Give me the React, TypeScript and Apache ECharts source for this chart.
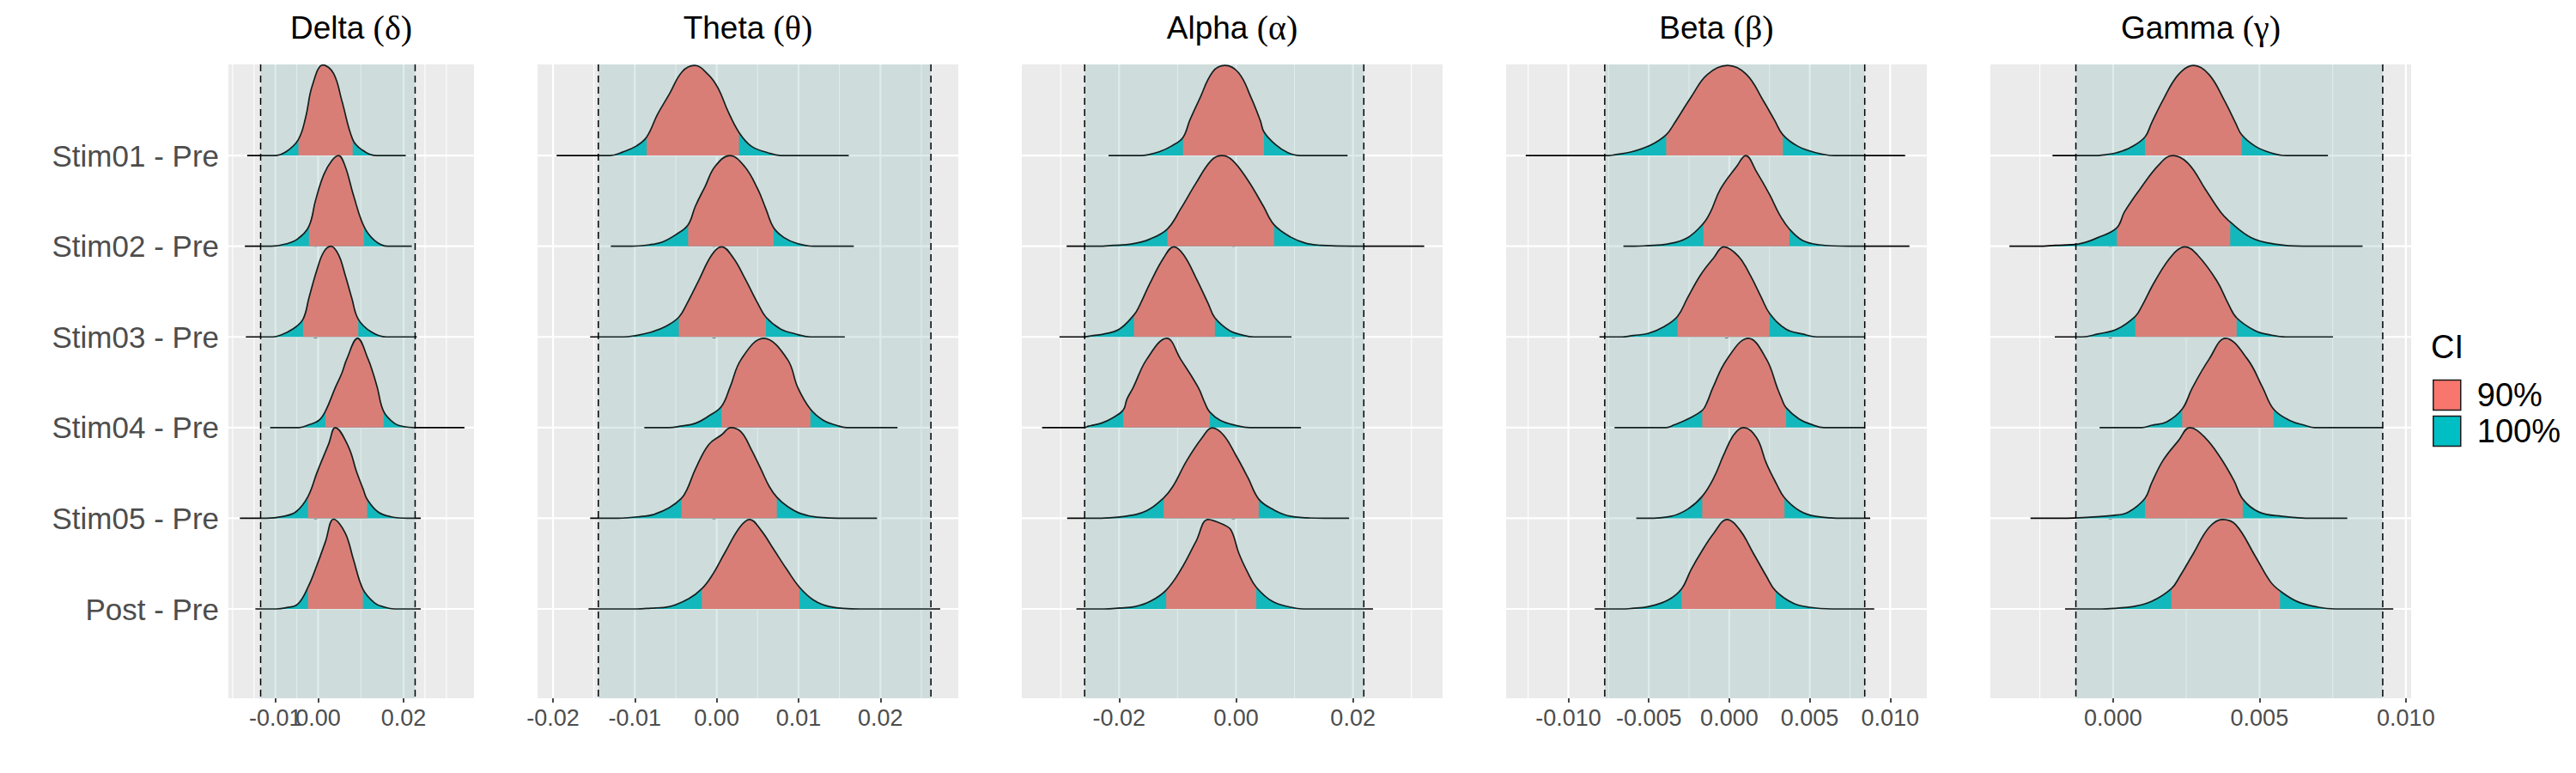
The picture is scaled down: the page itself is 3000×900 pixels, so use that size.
import React, { useEffect, useRef } from "react";
import * as echarts from "echarts";

// ---------- data ----------
const ROW_LABELS = ["Stim01 - Pre", "Stim02 - Pre", "Stim03 - Pre", "Stim04 - Pre", "Stim05 - Pre", "Post - Pre"];
const BANDS = ["Delta", "Theta", "Alpha", "Beta", "Gamma"];
const GREEK = ["δ", "θ", "α", "β", "γ"];
const X_MIN = [-0.021, -0.02189, -0.03665, -0.01387, -0.00419];
const X_MAX = [0.03646, 0.02952, 0.03533, 0.01228, 0.01018];
const TICKS = [
  [-0.01, 0, 0.02],
  [-0.02, -0.01, 0, 0.01, 0.02],
  [-0.02, 0, 0.02],
  [-0.01, -0.005, 0, 0.005, 0.01],
  [0, 0.005, 0.01],
];
const TICK_DECIMALS = [2, 2, 2, 3, 3];
const MINOR_BREAKS = [
  [-0.02, -0.015, -0.005, 0.01, 0.025, 0.03],
  [-0.015, -0.005, 0.005, 0.015, 0.025],
  [-0.03, -0.01, 0.01, 0.03],
  [-0.0125, -0.0075, -0.0025, 0.0025, 0.0075],
  [-0.0025, 0.0025, 0.0075],
];
const ROPE = [
  [-0.01346, 0.02269],
  [-0.01446, 0.02618],
  [-0.0259, 0.02186],
  [-0.00774, 0.00842],
  [-0.00127, 0.00921],
];

// density curves: [x, height relative to row spacing], rows top (Stim01) to bottom (Post)
const DELTA_DENSITY = [
  [[-0.01023, 0], [-0.00754, 0.041], [-0.00462, 0.177], [-0.00292, 0.423], [-0.00138, 0.77], [0.00115, 1.0], [0.00362, 0.905], [0.00554, 0.606], [0.00808, 0.177], [0.01015, 0.066], [0.01362, 0]],
  [[-0.011, 0], [-0.00754, 0.025], [-0.00485, 0.079], [-0.00215, 0.221], [-0.00062, 0.505], [0.00131, 0.789], [0.00323, 0.946], [0.00477, 1.0], [0.00631, 0.883], [0.00823, 0.568], [0.01069, 0.221], [0.01323, 0.063], [0.01631, 0]],
  [[-0.01062, 0], [-0.00869, 0.022], [-0.006, 0.085], [-0.00354, 0.196], [-0.00215, 0.432], [-0.00023, 0.748], [0.00131, 0.937], [0.003, 1.0], [0.00477, 0.905], [0.00631, 0.685], [0.00785, 0.432], [0.00938, 0.196], [0.01246, 0.054], [0.01592, 0]],
  [[-0.00446, 0], [-0.00215, 0.031], [0.00015, 0.079], [0.00169, 0.18], [0.004, 0.44], [0.00554, 0.6], [0.00669, 0.755], [0.00923, 0.984], [0.01169, 0.755], [0.01285, 0.6], [0.01385, 0.44], [0.01531, 0.18], [0.01785, 0.047], [0.02015, 0.01], [0.02246, 0]],
  [[-0.01215, 0], [-0.00831, 0.02], [-0.00523, 0.07], [-0.00238, 0.24], [-0.00023, 0.51], [0.00246, 0.82], [0.004, 1.0], [0.00708, 0.79], [0.009, 0.51], [0.01054, 0.32], [0.01146, 0.21], [0.014, 0.07], [0.01708, 0.016], [0.02092, 0]],
  [[-0.00985, 0], [-0.00754, 0.013], [-0.00485, 0.05], [-0.00238, 0.24], [-0.00023, 0.49], [0.00169, 0.74], [0.00362, 0.99], [0.00631, 0.84], [0.00823, 0.55], [0.01046, 0.22], [0.01323, 0.066], [0.01554, 0.02], [0.01785, 0]],
];
const DELTA_CI90 = [[-0.00462, 0.00808], [-0.00215, 0.01069], [-0.00354, 0.00938], [0.00169, 0.01531], [-0.00238, 0.01146], [-0.00238, 0.01046]];
const DELTA_RANGE = [[-0.0166, 0.0205], [-0.01715, 0.02192], [-0.01692, 0.02308], [-0.01123, 0.03423], [-0.01831, 0.024], [-0.01469, 0.024]];

const THETA_DENSITY = [
  [[-0.01305, 0], [-0.01145, 0.04], [-0.00984, 0.104], [-0.00855, 0.205], [-0.00723, 0.454], [-0.00582, 0.672], [-0.00422, 0.924], [-0.00269, 0.994], [-0.001, 0.89], [0.0002, 0.738], [0.00141, 0.483], [0.00273, 0.255], [0.00422, 0.104], [0.00622, 0.032], [0.00783, 0]],
  [[-0.01044, 0], [-0.00823, 0.016], [-0.00663, 0.047], [-0.00502, 0.126], [-0.00349, 0.237], [-0.00261, 0.44], [-0.00141, 0.66], [-0.0002, 0.88], [0.00161, 1.0], [0.00341, 0.88], [0.00502, 0.63], [0.00602, 0.41], [0.00695, 0.205], [0.00823, 0.095], [0.00984, 0.03], [0.01185, 0]],
  [[-0.01145, 0], [-0.00984, 0.016], [-0.00823, 0.047], [-0.00622, 0.117], [-0.00462, 0.218], [-0.00361, 0.37], [-0.00221, 0.62], [-0.0006, 0.905], [0.0006, 0.994], [0.00201, 0.874], [0.00341, 0.653], [0.00502, 0.37], [0.00602, 0.218], [0.00783, 0.085], [0.00944, 0.038], [0.01145, 0]],
  [[-0.00582, 0], [-0.00442, 0.016], [-0.00261, 0.047], [-0.001, 0.126], [0.0006, 0.236], [0.00161, 0.44], [0.00301, 0.755], [0.00574, 0.985], [0.00863, 0.755], [0.00992, 0.44], [0.01145, 0.204], [0.01305, 0.079], [0.01466, 0.025], [0.01586, 0]],
  [[-0.01205, 0], [-0.00904, 0.022], [-0.00783, 0.038], [-0.00582, 0.116], [-0.0043, 0.22], [-0.00361, 0.32], [-0.00261, 0.54], [-0.001, 0.81], [0.0006, 0.92], [0.00173, 1.0], [0.00301, 0.95], [0.00422, 0.76], [0.00542, 0.54], [0.00643, 0.35], [0.00735, 0.233], [0.00863, 0.132], [0.01024, 0.053], [0.01225, 0.013], [0.01586, 0]],
  [[-0.00984, 0], [-0.00803, 0.009], [-0.00582, 0.025], [-0.00341, 0.113], [-0.00181, 0.223], [-0.0006, 0.365], [0.001, 0.62], [0.00281, 0.9], [0.00402, 0.987], [0.00542, 0.868], [0.00703, 0.648], [0.00863, 0.428], [0.01012, 0.239], [0.01185, 0.097], [0.01386, 0.025], [0.01747, 0]],
];
const THETA_CI90 = [[-0.00855, 0.00273], [-0.00349, 0.00695], [-0.00462, 0.00602], [0.0006, 0.01145], [-0.0043, 0.00735], [-0.00181, 0.01012]];
const THETA_RANGE = [[-0.01956, 0.01614], [-0.01293, 0.01675], [-0.01546, 0.01566], [-0.00884, 0.02209], [-0.01546, 0.0196], [-0.01566, 0.02731]];

const ALPHA_DENSITY = [
  [[-0.0163, 0], [-0.01499, 0.01], [-0.01316, 0.041], [-0.01106, 0.104], [-0.00907, 0.2], [-0.00792, 0.388], [-0.00634, 0.61], [-0.00398, 0.924], [-0.00189, 0.994], [0.00047, 0.91], [0.00257, 0.64], [0.00414, 0.388], [0.00477, 0.262], [0.00676, 0.12], [0.00886, 0.032], [0.01096, 0]],
  [[-0.02364, 0], [-0.02102, 0.01], [-0.01788, 0.025], [-0.01473, 0.079], [-0.01174, 0.19], [-0.00949, 0.41], [-0.00687, 0.694], [-0.00425, 0.946], [-0.00241, 1.0], [-0.00058, 0.946], [0.00204, 0.726], [0.00467, 0.442], [0.0065, 0.237], [0.00938, 0.1], [0.01201, 0.032], [0.01463, 0.01], [0.01987, 0]],
  [[-0.02626, 0], [-0.02443, 0.016], [-0.0226, 0.032], [-0.01997, 0.085], [-0.01746, 0.243], [-0.01657, 0.338], [-0.01473, 0.59], [-0.01237, 0.874], [-0.01064, 0.994], [-0.00896, 0.905], [-0.00687, 0.653], [-0.00477, 0.369], [-0.00362, 0.211], [-0.0011, 0.069], [0.001, 0.022], [0.00309, 0]],
  [[-0.026, 0], [-0.02522, 0.016], [-0.02312, 0.047], [-0.02102, 0.11], [-0.01929, 0.195], [-0.01866, 0.314], [-0.01761, 0.44], [-0.01526, 0.755], [-0.01185, 0.985], [-0.00949, 0.755], [-0.00645, 0.44], [-0.0053, 0.267], [-0.00451, 0.173], [-0.00267, 0.079], [-0.00005, 0.025], [0.00231, 0]],
  [[-0.02469, 0], [-0.01893, 0.022], [-0.01526, 0.085], [-0.01237, 0.226], [-0.0108, 0.352], [-0.00844, 0.635], [-0.00582, 0.887], [-0.00409, 0.997], [-0.00215, 0.918], [-0.00005, 0.698], [0.00204, 0.447], [0.00388, 0.211], [0.00624, 0.1], [0.00938, 0.022], [0.01515, 0]],
  [[-0.0226, 0], [-0.01997, 0.01], [-0.01735, 0.025], [-0.01473, 0.082], [-0.01195, 0.208], [-0.00949, 0.428], [-0.00687, 0.742], [-0.00477, 0.987], [-0.00215, 0.93], [-0.00084, 0.868], [0.00047, 0.616], [0.00204, 0.396], [0.00346, 0.239], [0.00624, 0.082], [0.00938, 0.019], [0.01148, 0]],
];
const ALPHA_CI90 = [[-0.00907, 0.00477], [-0.01174, 0.0065], [-0.01746, -0.00362], [-0.01929, -0.00451], [-0.01237, 0.00388], [-0.01195, 0.00346]];
const ALPHA_RANGE = [[-0.02181, 0.01908], [-0.02899, 0.03219], [-0.0302, 0.00949], [-0.03318, 0.01111], [-0.02889, 0.01934], [-0.02731, 0.02343]];

const BETA_DENSITY = [
  [[-0.0075, 0], [-0.00709, 0.01], [-0.00607, 0.041], [-0.00484, 0.12], [-0.00392, 0.23], [-0.00341, 0.356], [-0.00239, 0.64], [-0.00137, 0.893], [-0.0001, 0.994], [0.00108, 0.893], [0.0021, 0.609], [0.00282, 0.388], [0.00333, 0.23], [0.00425, 0.104], [0.00537, 0.032], [0.0065, 0]],
  [[-0.00586, 0], [-0.00515, 0.006], [-0.00382, 0.025], [-0.00259, 0.095], [-0.00161, 0.252], [-0.00116, 0.379], [-0.00055, 0.63], [0.00047, 0.883], [0.00102, 1.0], [0.0017, 0.82], [0.00251, 0.568], [0.00313, 0.347], [0.00374, 0.189], [0.00456, 0.063], [0.00558, 0.016], [0.00742, 0]],
  [[-0.00668, 0], [-0.00597, 0.016], [-0.00505, 0.038], [-0.00402, 0.117], [-0.00321, 0.227], [-0.00259, 0.432], [-0.00178, 0.685], [-0.00096, 0.874], [-0.00035, 0.994], [0.00057, 0.89], [0.00129, 0.685], [0.002, 0.432], [0.00251, 0.259], [0.00353, 0.085], [0.00456, 0.032], [0.00547, 0]],
  [[-0.00392, 0], [-0.00341, 0.031], [-0.00259, 0.094], [-0.00168, 0.189], [-0.00137, 0.283], [-0.00102, 0.44], [-0.00014, 0.755], [0.00118, 0.985], [0.00231, 0.755], [0.00298, 0.44], [0.00323, 0.33], [0.00353, 0.22], [0.00435, 0.094], [0.00517, 0.031], [0.00588, 0]],
  [[-0.00515, 0], [-0.00362, 0.022], [-0.00259, 0.1], [-0.00168, 0.242], [-0.00096, 0.447], [-0.00035, 0.698], [0.00027, 0.918], [0.00088, 1.0], [0.0017, 0.887], [0.00231, 0.604], [0.00292, 0.384], [0.00343, 0.226], [0.00435, 0.085], [0.00537, 0.022], [0.00721, 0]],
  [[-0.00668, 0], [-0.00607, 0.006], [-0.00505, 0.025], [-0.00382, 0.097], [-0.00296, 0.223], [-0.00239, 0.428], [-0.00178, 0.616], [-0.00096, 0.836], [-0.00014, 0.987], [0.00067, 0.868], [0.00149, 0.616], [0.00231, 0.36], [0.00288, 0.2], [0.00394, 0.066], [0.00496, 0.019], [0.00639, 0]],
];
const BETA_CI90 = [[-0.00392, 0.00333], [-0.00161, 0.00374], [-0.00321, 0.00251], [-0.00168, 0.00353], [-0.00168, 0.00343], [-0.00296, 0.00288]];
const BETA_RANGE = [[-0.01265, 0.01093], [-0.00658, 0.0112], [-0.00807, 0.00844], [-0.00713, 0.0084], [-0.00578, 0.00876], [-0.00836, 0.00901]];

const GAMMA_DENSITY = [
  [[-0.00052, 0], [-0.00026, 0.01], [0.00013, 0.032], [0.00059, 0.088], [0.00109, 0.205], [0.00131, 0.356], [0.0017, 0.609], [0.00223, 0.893], [0.00275, 0.994], [0.00328, 0.893], [0.0038, 0.609], [0.00419, 0.356], [0.00439, 0.23], [0.00485, 0.104], [0.00537, 0.032], [0.0059, 0]],
  [[-0.00256, 0], [-0.00197, 0.01], [-0.00118, 0.025], [-0.00052, 0.095], [0.00013, 0.205], [0.00039, 0.379], [0.00092, 0.63], [0.00157, 0.9], [0.00203, 1.0], [0.00256, 0.915], [0.00315, 0.63], [0.00367, 0.379], [0.004, 0.268], [0.00472, 0.095], [0.0055, 0.025], [0.00649, 0]],
  [[-0.00105, 0], [-0.00052, 0.032], [0.00013, 0.085], [0.00076, 0.227], [0.00098, 0.338], [0.00144, 0.621], [0.00203, 0.905], [0.00246, 0.994], [0.00288, 0.905], [0.00354, 0.621], [0.00393, 0.369], [0.00422, 0.211], [0.00485, 0.069], [0.00537, 0.022], [0.0059, 0]],
  [[0.00098, 0], [0.00131, 0.025], [0.00183, 0.063], [0.00236, 0.204], [0.00271, 0.44], [0.00328, 0.755], [0.00384, 0.985], [0.00459, 0.755], [0.00511, 0.44], [0.00548, 0.204], [0.00603, 0.079], [0.00655, 0.025], [0.00688, 0]],
  [[-0.00157, 0], [-0.00079, 0.013], [0.0, 0.031], [0.00052, 0.069], [0.00109, 0.22], [0.00131, 0.384], [0.0017, 0.635], [0.00223, 0.855], [0.00262, 1.0], [0.00315, 0.887], [0.00367, 0.667], [0.00413, 0.415], [0.00443, 0.211], [0.00498, 0.069], [0.00577, 0.022], [0.00682, 0]],
  [[-0.00039, 0], [0.00013, 0.009], [0.00066, 0.025], [0.00131, 0.082], [0.00199, 0.223], [0.00229, 0.365], [0.00275, 0.616], [0.00328, 0.9], [0.00374, 0.987], [0.00419, 0.93], [0.00485, 0.585], [0.00537, 0.302], [0.0057, 0.2], [0.00629, 0.082], [0.00701, 0.019], [0.0076, 0]],
];
const GAMMA_CI90 = [[0.00109, 0.00439], [0.00013, 0.004], [0.00076, 0.00422], [0.00236, 0.00548], [0.00109, 0.00443], [0.00199, 0.0057]];
const GAMMA_RANGE = [[-0.00207, 0.00734], [-0.00354, 0.00852], [-0.00199, 0.00751], [-0.00046, 0.00921], [-0.00282, 0.008], [-0.00164, 0.00957]];

const DENSITIES = [DELTA_DENSITY, THETA_DENSITY, ALPHA_DENSITY, BETA_DENSITY, GAMMA_DENSITY];
const CI90S = [DELTA_CI90, THETA_CI90, ALPHA_CI90, BETA_CI90, GAMMA_CI90];
const RANGES = [DELTA_RANGE, THETA_RANGE, ALPHA_RANGE, BETA_RANGE, GAMMA_RANGE];
const LEGEND_LABELS = ["90%", "100%"];

// ---------- layout / style ----------
const GRID_LEFT = [266, 626, 1190, 1754, 2318];
const GRID_WIDTH = [286, 490, 490, 490, 490];
const GRID_TOP = 75;
const GRID_HEIGHT = 738;
const Y_MIN = 0.015;
const Y_MAX = 7.005;
const FONT = "Liberation Sans, Arial, sans-serif";
const RED = "#F8766D";
const TEAL = "#00BFC4";
const SMOOTH = 0.4;

function xAxisDef(p: number, values: number[]) {
  return {
    type: "value", gridIndex: p, min: X_MIN[p], max: X_MAX[p], position: "bottom", offset: 0,
    axisLine: { show: false }, splitLine: { show: false },
    axisTick: { show: true, length: 5, customValues: values, lineStyle: { color: "#333333", width: 1.8 } },
    axisLabel: {
      customValues: values, hideOverlap: false, showMinLabel: true, showMaxLabel: true,
      formatter: (v: number) => Number(v).toFixed(TICK_DECIMALS[p]),
      fontSize: 27, color: "#4D4D4D", fontFamily: FONT, margin: 9,
    },
  };
}

function buildOption() {
  const grid: any[] = [];
  const xAxis: any[] = [];
  const yAxis: any[] = [];
  const series: any[] = [];
  const graphic: any[] = [];
  const rowValues = [1, 2, 3, 4, 5, 6];
  const extraXAxes: any[] = [];

  BANDS.forEach((band, p) => {
    grid.push({
      left: GRID_LEFT[p], top: GRID_TOP, width: GRID_WIDTH[p], height: GRID_HEIGHT,
      show: true, backgroundColor: "#EBEBEB", borderWidth: 0, containLabel: false,
    });
    // ECharts drops overlapping neighbour labels; split alternating ticks over two coincident axes
    const even = TICKS[p].filter((_v, i) => i % 2 === 0);
    const odd = TICKS[p].filter((_v, i) => i % 2 === 1);
    xAxis.push(xAxisDef(p, even));
    if (odd.length) extraXAxes.push(xAxisDef(p, odd));
    yAxis.push({
      type: "value", gridIndex: p, min: Y_MIN, max: Y_MAX,
      axisLine: { show: false }, splitLine: { show: false },
      axisTick: { show: true, length: 5, customValues: rowValues, lineStyle: { color: "#333333", width: 1.8 } },
      axisLabel: {
        show: p === 0, customValues: rowValues, hideOverlap: false, showMinLabel: true, showMaxLabel: true,
        formatter: (v: number) => ROW_LABELS[6 - Math.round(v)],
        fontSize: 35, color: "#4D4D4D", fontFamily: FONT, margin: 11,
      },
    });

    // background grid lines
    series.push({
      type: "custom", xAxisIndex: p, yAxisIndex: p, z: 1, silent: true, clip: false,
      data: [[0, 0]],
      renderItem: (_params: any, api: any) => {
        const children: any[] = [];
        const yTop = api.coord([X_MIN[p], Y_MAX])[1];
        const yBot = api.coord([X_MIN[p], Y_MIN])[1];
        const xL = api.coord([X_MIN[p], 1])[0];
        const xR = api.coord([X_MAX[p], 1])[0];
        MINOR_BREAKS[p].forEach((v) => {
          const x = api.coord([v, 1])[0];
          children.push({ type: "line", shape: { x1: x, y1: yTop, x2: x, y2: yBot }, style: { stroke: "#FFFFFF", lineWidth: 1.1 } });
        });
        TICKS[p].forEach((v) => {
          const x = api.coord([v, 1])[0];
          children.push({ type: "line", shape: { x1: x, y1: yTop, x2: x, y2: yBot }, style: { stroke: "#FFFFFF", lineWidth: 2.2 } });
        });
        rowValues.forEach((r) => {
          const y = api.coord([X_MIN[p], r])[1];
          children.push({ type: "line", shape: { x1: xL, y1: y, x2: xR, y2: y }, style: { stroke: "#FFFFFF", lineWidth: 2.2 } });
        });
        return { type: "group", children };
      },
    });

    // ridges
    ROW_LABELS.forEach((_lab, r) => {
      const base = 6 - r;
      const pts = DENSITIES[p][r];
      const [lo, hi] = CI90S[p][r];
      const [xmin, xmax] = RANGES[p][r];
      const full = pts.map(([x, h]) => [x, base + h]);
      const mid = pts.filter(([x]) => x >= lo && x <= hi).map(([x, h]) => [x, base + h]);
      const common = {
        type: "line", xAxisIndex: p, yAxisIndex: p, smooth: SMOOTH,
        symbol: "none", showSymbol: false, silent: true, animation: false,
      };
      series.push({
        ...common, name: "100%", z: 10 + r * 3, color: TEAL, data: full,
        lineStyle: { width: 0, opacity: 0 },
        areaStyle: { color: TEAL, opacity: 1, origin: base },
      });
      series.push({
        ...common, name: "90%", z: 11 + r * 3, color: RED, data: mid,
        lineStyle: { width: 0, opacity: 0 },
        areaStyle: { color: RED, opacity: 1, origin: base },
      });
      series.push({
        ...common, name: "outline", z: 12 + r * 3, color: "#000000",
        data: [[xmin, base], ...full, [xmax, base]],
        lineStyle: { color: "#000000", width: 1.7 },
      });
    });

    // ROPE shading and dashed limits
    series.push({
      type: "custom", xAxisIndex: p, yAxisIndex: p, z: 40, silent: true, clip: false,
      data: [[0, 0]],
      renderItem: (_params: any, api: any) => {
        const yTop = api.coord([X_MIN[p], Y_MAX])[1];
        const yBot = api.coord([X_MIN[p], Y_MIN])[1];
        const x1 = api.coord([ROPE[p][0], 1])[0];
        const x2 = api.coord([ROPE[p][1], 1])[0];
        return {
          type: "group",
          children: [
            { type: "rect", shape: { x: x1, y: yTop, width: x2 - x1, height: yBot - yTop }, style: { fill: "rgba(95,158,160,0.2)" } },
            { type: "line", shape: { x1: x1, y1: yTop, x2: x1, y2: yBot }, style: { stroke: "#000000", lineWidth: 1.5, lineDash: [8, 5] } },
            { type: "line", shape: { x1: x2, y1: yTop, x2: x2, y2: yBot }, style: { stroke: "#000000", lineWidth: 1.5, lineDash: [8, 5] } },
          ],
        };
      },
    });

    // panel title
    graphic.push({
      type: "text", x: GRID_LEFT[p] + GRID_WIDTH[p] / 2, y: 32, z: 100,
      style: {
        text: `${band} {g|(${GREEK[p]})}`,
        fill: "#000000", fontSize: 37, fontFamily: FONT,
        align: "center", verticalAlign: "middle",
        rich: { g: { fontSize: 40, fontFamily: "Liberation Serif, DejaVu Serif, serif", fill: "#000000" } },
      },
    });
  });

  graphic.push({
    type: "text", x: 2831, y: 404, z: 100,
    style: { text: "CI", fill: "#000000", fontSize: 38, fontFamily: FONT, align: "left", verticalAlign: "middle" },
  });

  return {
    animation: false,
    backgroundColor: "#FFFFFF",
    grid, xAxis: [...xAxis, ...extraXAxes], yAxis, series, graphic,
    legend: {
      show: true, orient: "vertical", left: 2833, top: 441, padding: 0,
      itemWidth: 32, itemHeight: 35, itemGap: 4, selectedMode: false,
      textStyle: { fontSize: 38, color: "#000000", fontFamily: FONT, lineHeight: 35, padding: [0, 0, 0, 14] },
      data: [
        { name: LEGEND_LABELS[0], icon: "rect", itemStyle: { color: RED, borderColor: "#1A1A1A", borderWidth: 1.5 } },
        { name: LEGEND_LABELS[1], icon: "rect", itemStyle: { color: TEAL, borderColor: "#1A1A1A", borderWidth: 1.5 } },
      ],
    },
  };
}

export default function App() {
  const ref = useRef<HTMLDivElement>(null);
  useEffect(() => {
    if (!ref.current) return;
    const chart = echarts.init(ref.current, undefined, { renderer: "svg" });
    chart.setOption(buildOption() as any);
    return () => chart.dispose();
  }, []);
  return (
    <div
      ref={ref}
      style={{ position: "absolute", left: 0, top: 0, width: 3000, height: 900, background: "#FFFFFF" }}
    />
  );
}
